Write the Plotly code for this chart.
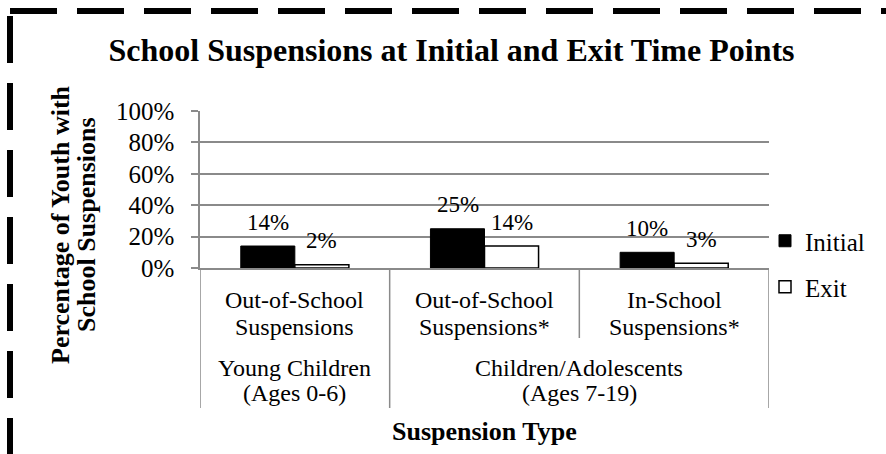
import plotly.graph_objects as go

# ---------------- data ----------------
categories = ["Out-of-School Suspensions (Young)", "Out-of-School Suspensions*", "In-School Suspensions*"]
cat_line1 = ["Out-of-School", "Out-of-School", "In-School"]
cat_line2 = ["Suspensions", "Suspensions*", "Suspensions*"]
group_line1 = ["Young Children", "Children/Adolescents"]
group_line2 = ["(Ages 0-6)", "(Ages 7-19)"]
group_first = [0, 1]   # first category index of each group
group_last = [0, 2]    # last category index of each group
initial = [0.14, 0.25, 0.10]
exit_vals = [0.02, 0.14, 0.03]
initial_labels = ["14%", "25%", "10%"]
exit_labels = ["2%", "14%", "3%"]
y_ticks = [0, 0.2, 0.4, 0.6, 0.8, 1.0]
title_text = "School Suspensions at Initial and Exit Time Points"
ytitle_lines = ["Percentage of Youth with", "School Suspensions"]
xtitle_text = "Suspension Type"

# ---------------- layout geometry (pixels) ----------------
W, H = 886, 454
L, R, T, B = 200, 769, 111, 268   # plot area edges
FONT = "Liberation Serif"
GRID = "#8a8a8a"


def px_x(px):
    return (px - L) / (R - L)


def px_y(py):
    return (B - py) / (B - T)


fig = go.Figure()
fig.add_trace(go.Bar(
    x=categories, y=initial, name="Initial",
    marker=dict(color="black", line=dict(color="black", width=1)),
    legend="legend",
))
fig.add_trace(go.Bar(
    x=categories, y=exit_vals, name="Exit",
    marker=dict(color="white", line=dict(color="black", width=1.5)),
    legend="legend2",
))

annotations = []
# data labels
for i, c in enumerate(categories):
    annotations.append(dict(x=c, y=initial[i], xref="x", yref="y", text=initial_labels[i],
                            showarrow=False, xshift=-27, yshift=24, yanchor="middle",
                            font=dict(family=FONT, size=23, color="black")))
    annotations.append(dict(x=c, y=exit_vals[i], xref="x", yref="y", text=exit_labels[i],
                            showarrow=False, xshift=27, yshift=24, yanchor="middle",
                            font=dict(family=FONT, size=23, color="black")))
# category labels (two lines each)
for i, c in enumerate(categories):
    annotations.append(dict(x=i, y=px_y(300), xref="x", yref="paper", text=cat_line1[i],
                            showarrow=False, yanchor="middle",
                            font=dict(family=FONT, size=24, color="black")))
    annotations.append(dict(x=i, y=px_y(327), xref="x", yref="paper", text=cat_line2[i],
                            showarrow=False, yanchor="middle",
                            font=dict(family=FONT, size=24, color="black")))
# group labels
for g in range(len(group_line1)):
    xc = (group_first[g] + group_last[g]) / 2
    annotations.append(dict(x=xc, y=px_y(368), xref="x", yref="paper", text=group_line1[g],
                            showarrow=False, yanchor="middle",
                            font=dict(family=FONT, size=24, color="black")))
    annotations.append(dict(x=xc, y=px_y(393), xref="x", yref="paper", text=group_line2[g],
                            showarrow=False, yanchor="middle",
                            font=dict(family=FONT, size=24, color="black")))
# y-axis title (two rotated lines)
for k, (line, xp) in enumerate(zip(ytitle_lines, [60, 86])):
    annotations.append(dict(x=px_x(xp), y=px_y(225), xref="paper", yref="paper", text=f"<b>{line}</b>",
                            showarrow=False, textangle=-90, xanchor="center", yanchor="middle",
                            font=dict(family=FONT, size=26, color="black")))
# x-axis title
annotations.append(dict(x=0.5, y=px_y(432), xref="paper", yref="paper", text=f"<b>{xtitle_text}</b>",
                        showarrow=False, xanchor="center", yanchor="middle",
                        font=dict(family=FONT, size=26, color="black")))

shapes = []
# left axis extension below the plot
shapes.append(dict(type="line", xref="x", yref="paper", x0=-0.5, x1=-0.5, y0=0, y1=px_y(408),
                   line=dict(color=GRID, width=1.5)))
# group dividers
for x0, ybot in [(0.5, 408), (1.5, 338), (2.5, 408)]:
    shapes.append(dict(type="line", xref="x", yref="paper", x0=x0, x1=x0, y0=0, y1=px_y(ybot),
                       line=dict(color=GRID, width=1.5)))
# dashed border (top and left)
shapes.append(dict(type="line", xref="paper", yref="paper", x0=px_x(10), x1=px_x(W + 5),
                   y0=px_y(11), y1=px_y(11), line=dict(color="black", width=6, dash="47px,20px")))
shapes.append(dict(type="line", xref="paper", yref="paper", x0=px_x(10), x1=px_x(10),
                   y0=px_y(16), y1=px_y(H + 5), line=dict(color="black", width=6, dash="47px,20px")))

fig.update_layout(
    width=W, height=H,
    margin=dict(l=L, r=W - R, t=T, b=H - B, autoexpand=False),
    paper_bgcolor="white", plot_bgcolor="white",
    barmode="group", bargap=0.43, bargroupgap=0,
    title=dict(text=f"<b>{title_text}</b>", x=451.5 / W, xanchor="center",
               y=1 - 50 / H, yanchor="middle", yref="container",
               font=dict(family=FONT, size=32, color="black")),
    xaxis=dict(type="category", range=[-0.5, 2.5], showticklabels=False, showgrid=False,
               showline=True, linecolor=GRID, linewidth=1.5, zeroline=False, ticks=""),
    yaxis=dict(range=[0, 1], tickvals=y_ticks, tickformat=".0%", showgrid=True,
               gridcolor=GRID, gridwidth=1.5, showline=True, linecolor=GRID, linewidth=1.5,
               ticks="outside", ticklen=7, tickcolor=GRID, tickwidth=1.5, zeroline=False,
               ticklabelstandoff=12,
               tickfont=dict(family=FONT, size=25, color="black")),
    legend=dict(x=px_x(765), xanchor="left", y=px_y(241), yanchor="middle",
                font=dict(family=FONT, size=25, color="black"), bgcolor="rgba(0,0,0,0)"),
    legend2=dict(x=px_x(765), xanchor="left", y=px_y(287), yanchor="middle",
                 font=dict(family=FONT, size=25, color="black"), bgcolor="rgba(0,0,0,0)"),
    annotations=annotations,
    shapes=shapes,
    showlegend=True,
)

fig.write_html("out.html")
